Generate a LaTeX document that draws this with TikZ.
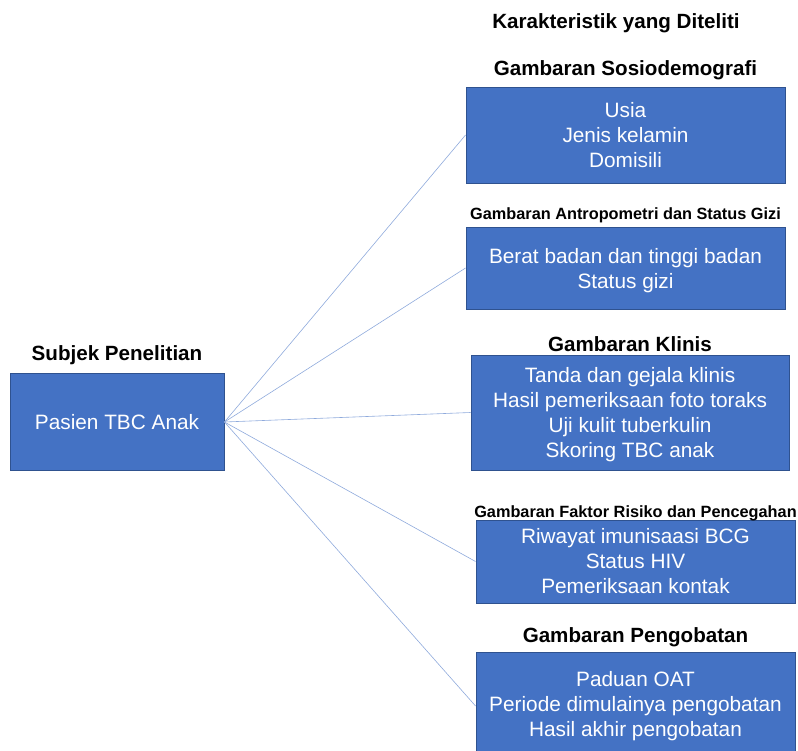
\documentclass[tikz,border=0pt]{standalone}
\usepackage{fontspec}
\setmainfont{Liberation Sans}
\usetikzlibrary{positioning}
\definecolor{boxblue}{HTML}{4472C4}
\definecolor{boxedge}{HTML}{2F528F}
\definecolor{linkblue}{HTML}{8FAADC}

\begin{document}
\begin{tikzpicture}[x=1pt,y=-1pt,
    box/.style={draw=boxedge, line width=0.9pt, fill=boxblue, text=white, align=center,
                font=\fontsize{20.8}{25}\selectfont, inner sep=0pt},
    head/.style={font=\bfseries\fontsize{20.6}{22}\selectfont, inner sep=0pt},
    smallhead/.style={font=\bfseries\fontsize{16.3}{17}\selectfont, inner sep=0pt},
    link/.style={draw=linkblue, line width=0.6pt}]
  \useasboundingbox (0,0) rectangle (798,751);

  \node[head] (title) at (616,23) {Karakteristik yang Diteliti};

  % subject
  \node[box, minimum width=214, minimum height=97] (pasien) at (117,422) {Pasien TBC Anak};
  \node[head, above=8pt of pasien] (subjek) {Subjek Penelitian};

  % characteristics
  \node[box, minimum width=319, minimum height=96] (sosio) at (625.5,135) {Usia\\Jenis kelamin\\Domisili};
  \node[head, above=6pt of sosio] (hsosio) {Gambaran Sosiodemografi};

  \node[box, minimum width=319, minimum height=82, text depth=-2pt] (antro) at (625.5,268) {Berat badan dan tinggi badan\\Status gizi};
  \node[smallhead, above=3pt of antro] (hantro) {Gambaran Antropometri dan Status Gizi};

  \node[box, minimum width=318, minimum height=115, text depth=-3pt] (klinis) at (630,412.5) {Tanda dan gejala klinis\\Hasil pemeriksaan foto toraks\\Uji kulit tuberkulin\\Skoring TBC anak};
  \node[head, above=3pt of klinis] (hklinis) {Gambaran Klinis};

  \node[box, minimum width=319, minimum height=83] (risiko) at (635.5,561.5) {Riwayat imunisaasi BCG\\Status HIV\\Pemeriksaan kontak};
  \node[smallhead, above=-2pt of risiko] (hrisiko) {Gambaran Faktor Risiko dan Pencegahan};

  \node[box, minimum width=319, minimum height=108] (obat) at (635.5,706) {Paduan OAT\\Periode dimulainya pengobatan\\Hasil akhir pengobatan};
  \node[head, above=4pt of obat] (hobat) {Gambaran Pengobatan};

  % links
  \foreach \t in {sosio,antro,klinis,risiko,obat}
    \draw[link] (pasien.east) -- (\t.west);
\end{tikzpicture}
\end{document}
